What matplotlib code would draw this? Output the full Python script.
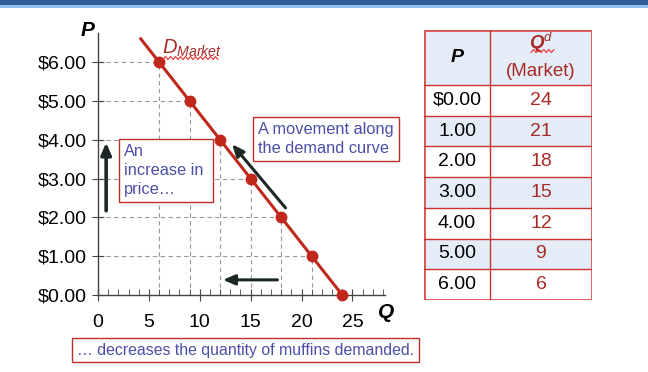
import numpy as np
import matplotlib
matplotlib.use("Agg")
import matplotlib.pyplot as plt
from matplotlib.patches import Rectangle

plt.rcParams['font.family'] = ['Liberation Sans', 'DejaVu Sans']
plt.rcParams['mathtext.fontset'] = 'custom'
plt.rcParams['mathtext.it'] = 'Liberation Sans:italic'
plt.rcParams['mathtext.rm'] = 'Liberation Sans'
plt.rcParams['mathtext.bfit'] = 'Liberation Sans:bold:italic'

# demand schedule
prices = [0, 1, 2, 3, 4, 5, 6]
qd_market = [24, 21, 18, 15, 12, 9, 6]
price_labels = ["$0.00", "1.00", "2.00", "3.00", "4.00", "5.00", "6.00"]

# the drawn curve runs a little past the top point
curve_q = [4.2, 24]
curve_p = [6.6, 0]

x_ticks = [0, 5, 10, 15, 20, 25]
y_ticks = [0, 1, 2, 3, 4, 5, 6]
y_ticklabels = ["$0.00", "$1.00", "$2.00", "$3.00", "$4.00", "$5.00", "$6.00"]

RED = "#c0281c"
TXT_RED = "#a82a26"
BOX_RED = "#b8322a"
BLUE_TXT = "#4a4fa6"
ARROW = "#1c2828"

W, H = 648, 372
fig = plt.figure(figsize=(W / 100, H / 100), dpi=100)


def fx(x):
    return x / W


def fy(y):
    return 1 - y / H


# top banner
fig.add_artist(Rectangle((0, fy(5)), 1, 5 / H, transform=fig.transFigure, color="#2f5f96", lw=0))
fig.add_artist(Rectangle((0, fy(8)), 1, 3 / H, transform=fig.transFigure, color="#8ec0ec", lw=0))

# main chart
ax = fig.add_axes([fx(98), fy(295), 287 / W, 262 / H])
ax.set_xlim(0, 28.2)
ax.set_ylim(0, 6.75)
for s in ["top", "right"]:
    ax.spines[s].set_visible(False)
for s in ["left", "bottom"]:
    ax.spines[s].set_color("#444444")
    ax.spines[s].set_linewidth(1)

ax.set_xticks(x_ticks)
ax.set_xticks(np.arange(1, 29), minor=True)
ax.set_yticks(y_ticks)
ax.set_yticklabels(y_ticklabels)
ax.tick_params(axis="x", which="major", direction="inout", length=8, pad=10,
               labelsize=14, color="#444444")
ax.tick_params(axis="x", which="minor", direction="in", length=4, color="#444444")
ax.tick_params(axis="y", which="major", direction="inout", length=8, pad=4,
               labelsize=14, color="#444444")

# drop lines
for q, p in zip(qd_market, prices):
    ax.plot([0, q], [p, p], color="#999999", lw=0.8, ls=(0, (4, 3)), zorder=1)
    ax.plot([q, q], [0, p], color="#999999", lw=0.8, ls=(0, (4, 3)), zorder=1)

ax.plot(curve_q, curve_p, color=RED, lw=2.2, zorder=3)
ax.plot(qd_market, prices, "o", color=RED, ms=7.5, zorder=4, clip_on=False)

ax.text(6.3, 6.22, r"$D_{Market}$", color=TXT_RED, fontsize=14.5, ha="left", va="baseline")

# arrows
head = "-|>,head_width=0.3,head_length=0.7"
ax.annotate("", xy=(0.8, 4.0), xytext=(0.8, 2.1),
            arrowprops=dict(arrowstyle=head, color=ARROW, lw=2.6))
ax.annotate("", xy=(13.0, 3.94), xytext=(18.6, 2.19),
            arrowprops=dict(arrowstyle=head, color=ARROW, lw=2.2))
ax.annotate("", xy=(12.0, 0.39), xytext=(17.9, 0.39),
            arrowprops=dict(arrowstyle=head, color=ARROW, lw=2.2))

fig.text(fx(88), fy(30), "P", fontsize=15, fontweight="bold", fontstyle="italic", ha="center", va="center")
fig.text(fx(386), fy(312), "Q", fontsize=15, fontweight="bold", fontstyle="italic", ha="center", va="center")

# text boxes
box = dict(boxstyle="square,pad=0.3", fc="white", ec=BOX_RED, lw=1)
fig.text(fx(124), fy(144), "An\nincrease in \nprice\u2026", color=BLUE_TXT, fontsize=11.8,
         ha="left", va="top", linespacing=1.35, bbox=box)
fig.text(fx(258), fy(122), "A movement along\nthe demand curve", color=BLUE_TXT, fontsize=11.8,
         ha="left", va="top", linespacing=1.35, bbox=box)
fig.text(fx(77), fy(350), "\u2026 decreases the quantity of muffins demanded.", color=BLUE_TXT,
         fontsize=11.4, ha="left", va="center", bbox=box)

# table
tx0, tx1, tsplit = 424, 592, 490
ty0, thead, ty1 = 30, 85, 300
tab = fig.add_axes([fx(tx0), fy(ty1), (tx1 - tx0) / W, (ty1 - ty0) / H])
tab.set_xlim(tx0, tx1)
tab.set_ylim(ty1, ty0)
tab.axis("off")

row_h = (ty1 - thead) / len(prices)
tab.add_patch(Rectangle((tx0, ty0), tx1 - tx0, thead - ty0, fc="#e4edf7", ec="none"))
for i, (lab, q) in enumerate(zip(price_labels, qd_market)):
    top = thead + i * row_h
    fc = "#e4edf7" if i % 2 == 1 else "white"
    tab.add_patch(Rectangle((tx0, top), tx1 - tx0, row_h, fc=fc, ec="none"))
    tab.plot([tx0, tx1], [top, top], color="#c8342c", lw=1)
    tab.text((tx0 + tsplit) / 2, top + row_h / 2, lab, fontsize=14, ha="center", va="center")
    tab.text((tsplit + tx1) / 2, top + row_h / 2, str(q), fontsize=14, ha="center",
             va="center", color=TXT_RED)
tab.plot([tsplit, tsplit], [ty0, ty1], color="#c8342c", lw=1)
tab.add_patch(Rectangle((tx0, ty0), tx1 - tx0, ty1 - ty0, fc="none", ec="#d95550", lw=2))

tab.text((tx0 + tsplit) / 2, 58, "P", fontsize=14, fontweight="bold", fontstyle="italic",
         ha="center", va="center")
tab.text((tsplit + tx1) / 2, 43, r"$\mathbfit{Q}^{\mathit{d}}$", fontsize=13.5, ha="center",
         va="center", color=TXT_RED)
tab.text((tsplit + tx1) / 2, 72, "(Market)", fontsize=13.5, ha="center", va="center", color=TXT_RED)


# spell-check squiggles
def squiggle(x0, x1, y):
    xs = np.linspace(x0, x1, int((x1 - x0) / 2.5) + 1)
    ys = y + np.where(np.arange(len(xs)) % 2 == 0, 1.5, -1.5)
    fig.add_artist(plt.Line2D([fx(v) for v in xs], [fy(v) for v in ys], color="#e83030", lw=0.8))


squiggle(163, 218, 58)
squiggle(531, 554, 51)

fig.savefig("out.png", dpi=100)
